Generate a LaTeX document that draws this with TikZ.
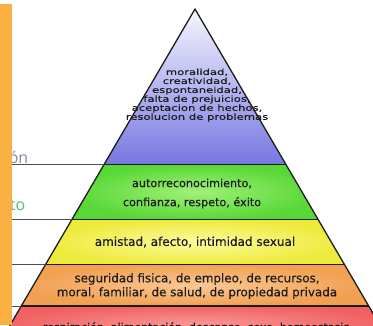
\documentclass[tikz,border=0pt]{standalone}
\usepackage{fontspec}
\setmainfont{DejaVu Sans}
\newfontfamily\bandfont{DejaVu Sans}[FakeBold=0.35]
\newfontfamily\lblfont{Open Sans}
\definecolor{barorange}{HTML}{FBB044}
\definecolor{bluetop}{HTML}{F6F6FF}
\definecolor{bluebot}{HTML}{7676E2}
\definecolor{greenin}{HTML}{A2F07A}
\definecolor{greenout}{HTML}{58D836}
\definecolor{yellowin}{HTML}{FCFBA0}
\definecolor{yellowout}{HTML}{EEEA3C}
\definecolor{orangein}{HTML}{FAC894}
\definecolor{orangeout}{HTML}{F2A052}
\definecolor{redin}{HTML}{FA9494}
\definecolor{redout}{HTML}{F06262}
\definecolor{inktext}{HTML}{1C1C1C}
\definecolor{guidegray}{HTML}{505050}
\definecolor{lblpurple}{HTML}{8A8AA8}
\definecolor{lblgreen}{HTML}{62BC62}
\tikzset{
  edge/.style={draw=inktext, line width=1.3pt, line join=round},
  bandline/.style={draw=inktext, line width=1.4pt},
  guide/.style={draw=guidegray, line width=0.9pt},
  bandtext/.style={text=inktext, align=center, inner sep=0pt},
  sidelbl/.style={font=\lblfont\fontsize{16}{18}\selectfont, inner sep=0pt, anchor=base east}
}
\begin{document}
\begin{tikzpicture}[x=1pt,y=-1pt]
\useasboundingbox (0,0) rectangle (373,325);
\clip (0,0) rectangle (373,325);
\fill[white] (0,0) rectangle (373,325);
% pyramid corners
\coordinate (apex) at (195,9);
\coordinate (l1) at (104.3,164.5); \coordinate (r1) at (285.7,164.5);
\coordinate (l2) at (71.9,219.5);  \coordinate (r2) at (318.1,219.5);
\coordinate (l3) at (45.5,264.5);  \coordinate (r3) at (344.5,264.5);
\coordinate (l4) at (21.3,306);    \coordinate (r4) at (368.7,306);
\coordinate (l5) at (1.4,340);     \coordinate (r5) at (388.6,340);
% bands
\shade[top color=bluetop, bottom color=bluebot] (apex) -- (l1) -- (r1) -- cycle;
\shade[inner color=greenin, outer color=greenout] (l1) -- (l2) -- (r2) -- (r1) -- cycle;
\shade[inner color=yellowin, outer color=yellowout] (l2) -- (l3) -- (r3) -- (r2) -- cycle;
\shade[inner color=orangein, outer color=orangeout] (l3) -- (l4) -- (r4) -- (r3) -- cycle;
\shade[inner color=redin, outer color=redout] (l4) -- (l5) -- (r5) -- (r4) -- cycle;
% outlines
\draw[bandline] (l1) -- (r1);
\draw[bandline] (l2) -- (r2);
\draw[bandline] (l3) -- (r3);
\draw[bandline] (l4) -- (r4);
\draw[edge] (l5) -- (apex) -- (r5);
% guide lines to the left
\coordinate (g1) at (12,164.5);
\coordinate (g2) at (12,219.5);
\coordinate (g3) at (12,264.5);
\coordinate (g4) at (12,306);
\draw[guide] (g1) -- (l1);
\draw[guide] (g2) -- (l2);
\draw[guide] (g3) -- (l3);
\draw[guide] (g4) -- (l4);
% band texts
\node[bandtext] (t1) at (197,95.5) {\bandfont\fontsize{11.6}{12.1}\selectfont\scalebox{1}[0.72]{\begin{tabular}{@{}c@{}}moralidad,\\creatividad,\\espontaneidad,\\falta de prejuicios,\\aceptacion de hechos,\\resolucion de problemas\end{tabular}}};
\node[bandtext, font=\bandfont\fontsize{11.2}{19}\selectfont] (t2) at (192,193.5) {autorreconocimiento,\\confianza, respeto, éxito};
\node[bandtext, font=\bandfont\fontsize{12}{14}\selectfont] (t3) at (195,242) {amistad, afecto, intimidad sexual};
\node[bandtext, font=\bandfont\fontsize{11.9}{14}\selectfont] (t4) at (197,286) {seguridad fisica, de empleo, de recursos,\\moral, familiar, de salud, de propiedad privada};
\node[bandtext, font=\bandfont\fontsize{11}{14}\selectfont, anchor=base] (t5) at (196,331) {respiración, alimentación, descanso, sexo, homeostasis};
% side labels (mostly hidden behind the bar)
\node[sidelbl, text=lblpurple] (s1) at (28.5,163) {ón};
\node[sidelbl, text=lblgreen] (s2) at (25.5,210.5) {to};
% orange bar
\fill[barorange] (0,4) rectangle (12,325);
\end{tikzpicture}
\end{document}
